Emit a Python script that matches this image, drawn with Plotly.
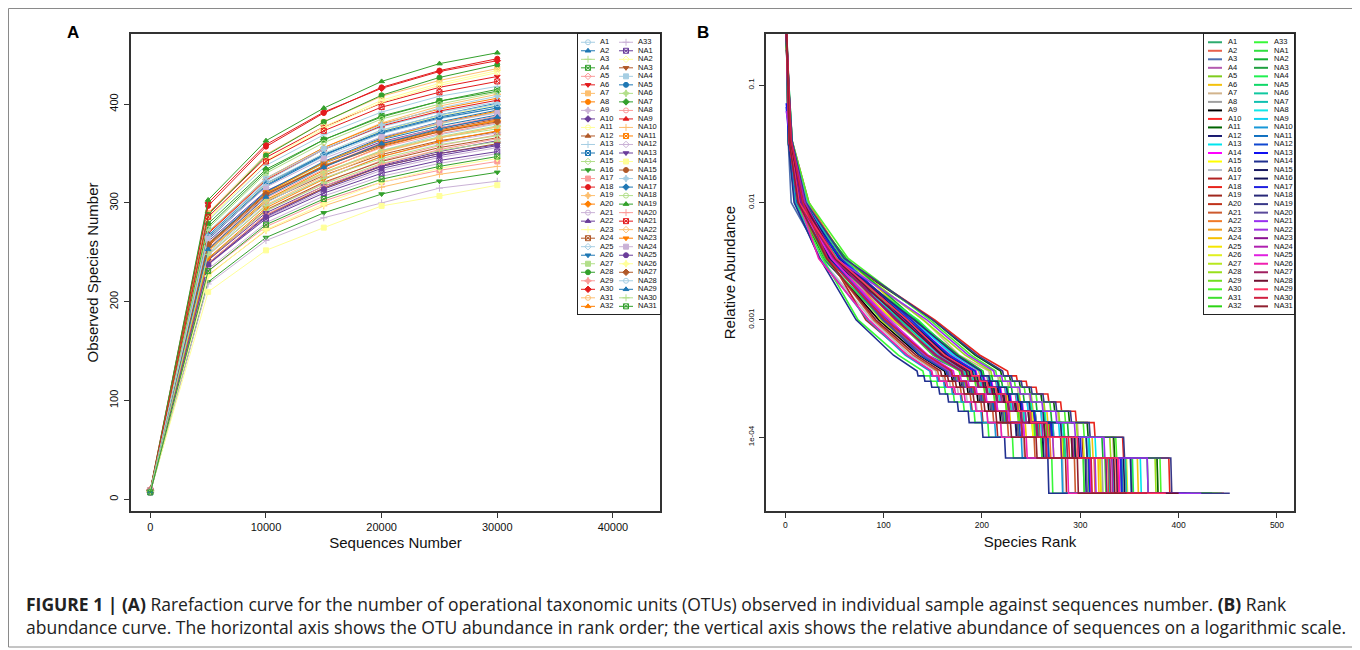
import plotly.graph_objects as go

# the page body adds an 8px margin, so the figure is 8px smaller and coordinates are shifted
OFF = 8
W, H = 1360 - OFF, 650 - OFF

# ---------------- panel A : rarefaction curves ----------------
depths = [0, 5000, 10000, 15000, 20000, 25000, 30000]
samples = [f"A{i}" for i in range(1, 34)] + [f"NA{i}" for i in range(1, 32)]

# observed OTUs at each depth, order A1..A33 then NA1..NA31
obs_0 = [8, 7, 9, 8, 7, 9, 8, 8, 7, 9, 8, 8, 9, 7, 8, 7, 9, 9, 8, 8, 7, 8, 8, 9, 7, 8, 8, 9, 8, 10, 7, 8, 8,
         8, 8, 7, 9, 8, 8, 9, 7, 8, 8, 8, 7, 9, 8, 8, 8, 9, 8, 9, 7, 9, 8, 8, 9, 7, 8, 9, 8, 8, 9, 7]
obs_5000 = [263, 263, 253, 276, 242, 289, 290, 252, 237, 261, 283, 243, 282, 259, 257, 220, 231, 297, 269, 259,
            233, 238, 265, 251, 249, 265, 244, 288, 253, 300, 247, 270, 218,
            238, 284, 239, 271, 258, 251, 279, 254, 269, 227, 257, 247, 242, 210, 256, 267, 267, 274, 303, 239,
            286, 251, 244, 264, 238, 226, 258, 266, 253, 248, 231]
obs_10000 = [317, 317, 303, 332, 292, 346, 349, 303, 285, 312, 341, 293, 338, 311, 310, 265, 276, 357, 324, 309,
             280, 287, 319, 301, 300, 318, 292, 348, 305, 359, 298, 325, 262,
             284, 343, 288, 325, 311, 302, 334, 307, 323, 272, 310, 297, 290, 252, 308, 322, 320, 330, 363, 288,
             342, 302, 295, 316, 286, 273, 309, 320, 306, 297, 278]
obs_15000 = [347, 348, 331, 364, 320, 377, 382, 333, 312, 340, 375, 321, 369, 341, 340, 290, 302, 391, 356, 338,
             307, 315, 350, 328, 330, 349, 319, 382, 334, 392, 327, 356, 285,
             310, 377, 315, 355, 342, 331, 364, 337, 354, 297, 341, 325, 317, 275, 337, 354, 349, 361, 396, 317,
             373, 330, 324, 345, 314, 299, 337, 350, 336, 325, 304]
obs_20000 = [370, 373, 352, 388, 343, 401, 408, 357, 333, 362, 402, 342, 392, 364, 365, 309, 321, 417, 381, 359,
             327, 338, 373, 349, 353, 372, 340, 409, 356, 416, 351, 380, 300,
             330, 404, 337, 377, 366, 353, 387, 361, 378, 316, 365, 347, 337, 297, 360, 379, 371, 385, 423, 339,
             397, 352, 347, 367, 335, 321, 358, 374, 360, 345, 324]
obs_25000 = [385, 389, 366, 403, 358, 417, 424, 372, 346, 376, 419, 356, 408, 378, 380, 322, 333, 434, 398, 373,
             340, 352, 388, 363, 369, 387, 353, 427, 370, 433, 366, 395, 315,
             343, 421, 350, 392, 382, 367, 403, 376, 393, 329, 381, 361, 350, 307, 374, 396, 386, 400, 441, 354,
             412, 366, 362, 381, 348, 335, 372, 389, 375, 359, 337]
obs_30000 = [396, 401, 375, 415, 369, 428, 436, 384, 356, 386, 432, 366, 418, 389, 392, 331, 342, 446, 410, 383,
             350, 363, 399, 372, 380, 398, 362, 440, 381, 444, 377, 406, 322,
             352, 434, 360, 402, 394, 378, 413, 388, 404, 337, 393, 371, 359, 318, 385, 408, 396, 412, 452, 365,
             423, 377, 373, 391, 358, 345, 382, 400, 387, 368, 347]

colors_a = ["#A6CEE3", "#1F78B4", "#B2DF8A", "#33A02C", "#FB9A99", "#E31A1C",
            "#FDBF6F", "#FF7F00", "#CAB2D6", "#6A3D9A", "#FFFF99", "#B15928"]
symbols_a = ["circle-open", "triangle-up", "cross-thin-open", "square-x-open", "diamond-open",
             "triangle-down", "square", "circle", "star-diamond", "diamond"]

# ---------------- panel B : rank abundance ----------------
total_reads = 30000
# relative abundance of the most abundant OTU
top_share = [0.31, 0.28, 0.36, 0.25, 0.42, 0.30, 0.22, 0.34, 0.39, 0.27, 0.24, 0.37, 0.29, 0.33, 0.26, 0.44,
             0.40, 0.21, 0.32, 0.28, 0.41, 0.35, 0.27, 0.38, 0.30, 0.26, 0.36, 0.23, 0.31, 0.24, 0.34, 0.29, 0.45,
             0.38, 0.23, 0.35, 0.28, 0.31, 0.33, 0.25, 0.30, 0.27, 0.43, 0.29, 0.36, 0.07, 0.46, 0.30, 0.27,
             0.065, 0.26, 0.20, 0.37, 0.06, 0.35, 0.33, 0.29, 0.36, 0.40, 0.31, 0.28, 0.32, 0.34, 0.39]
# number of OTUs having at least N reads (= last rank at that abundance)
rank_1000 = [5, 4, 3, 5, 4, 6, 7, 5, 3, 5, 6, 4, 5, 4, 6, 3, 4, 7, 5, 6, 3, 4, 6, 4, 5, 6, 4, 5, 6, 7, 4, 5, 3,
             4, 6, 5, 5, 4, 6, 7, 4, 6, 3, 6, 4, 5, 3, 6, 5, 4, 6, 7, 5, 6, 4, 5, 6, 4, 4, 4, 5, 4, 6, 4]
rank_300 = [19, 14, 6, 18, 18, 18, 21, 20, 11, 17, 17, 16, 19, 12, 20, 12, 10, 24, 17, 19, 10, 23, 19, 13, 17,
            20, 13, 18, 18, 24, 13, 19, 11,
            14, 18, 17, 18, 14, 17, 20, 15, 22, 10, 19, 12, 15, 9, 19, 18, 15, 20, 21, 17, 19, 13, 16, 20, 13,
            14, 13, 18, 14, 18, 13]
rank_100 = [54, 48, 38, 52, 45, 61, 54, 50, 40, 55, 57, 48, 49, 50, 54, 36, 45, 58, 56, 44, 42, 60, 49, 49, 42,
            51, 48, 59, 50, 64, 52, 49, 38,
            40, 62, 44, 47, 53, 46, 59, 46, 54, 35, 56, 44, 46, 35, 45, 55, 56, 51, 60, 48, 51, 48, 49, 49, 47,
            34, 50, 51, 52, 43, 42]
rank_30 = [124, 121, 100, 130, 116, 130, 141, 108, 95, 117, 150, 98, 132, 126, 115, 88, 82, 152, 125, 121, 90,
           101, 118, 104, 110, 122, 97, 140, 124, 147, 113, 117, 74,
           99, 133, 104, 135, 116, 117, 123, 119, 128, 84, 125, 100, 103, 72, 122, 124, 128, 131, 150, 99, 144,
           103, 114, 120, 106, 85, 112, 119, 124, 102, 92]
rank_15 = [164, 167, 145, 172, 154, 174, 177, 156, 136, 156, 193, 140, 170, 168, 153, 127, 124, 198, 164, 167,
           130, 140, 160, 143, 154, 160, 139, 183, 162, 189, 150, 160, 115,
           141, 176, 142, 173, 159, 155, 166, 156, 172, 122, 167, 137, 144, 110, 160, 165, 166, 174, 195, 140,
           186, 142, 152, 158, 145, 124, 154, 159, 162, 144, 133]
rank_11 = [190, 189, 179, 197, 181, 197, 207, 180, 162, 184, 219, 164, 199, 194, 177, 153, 148, 226, 191, 190,
           155, 167, 186, 168, 179, 188, 165, 209, 189, 214, 177, 185, 140,
           166, 201, 168, 200, 184, 182, 191, 183, 198, 147, 193, 164, 169, 134, 187, 190, 193, 199, 221, 165,
           212, 167, 179, 184, 171, 149, 180, 184, 189, 169, 158]
rank_10 = [198, 197, 187, 205, 188, 206, 216, 188, 169, 192, 228, 171, 207, 202, 185, 160, 155, 235, 199, 198,
           162, 174, 194, 176, 187, 196, 172, 218, 197, 223, 185, 193, 147,
           173, 210, 175, 208, 192, 190, 199, 191, 206, 154, 201, 172, 176, 141, 195, 198, 201, 207, 230, 172,
           220, 175, 187, 192, 178, 156, 188, 192, 197, 176, 165]
rank_9 = [206, 206, 195, 214, 196, 216, 226, 196, 177, 200, 238, 179, 216, 210, 193, 167, 162, 245, 208, 206,
          170, 182, 203, 184, 195, 205, 180, 228, 205, 233, 193, 202, 154,
          181, 220, 183, 217, 200, 198, 208, 199, 215, 161, 209, 180, 184, 148, 203, 207, 209, 216, 240, 180,
          229, 183, 195, 200, 186, 164, 196, 201, 205, 184, 173]
rank_8 = [215, 215, 204, 223, 204, 226, 236, 205, 185, 209, 248, 187, 225, 219, 202, 175, 170, 255, 217, 215,
          178, 190, 212, 193, 204, 214, 188, 238, 214, 243, 202, 211, 162,
          189, 230, 191, 226, 209, 207, 217, 208, 224, 169, 218, 189, 192, 156, 212, 216, 218, 225, 250, 188,
          238, 192, 204, 209, 194, 172, 205, 210, 214, 192, 181]
rank_7 = [225, 226, 214, 234, 214, 238, 248, 215, 195, 219, 260, 197, 236, 229, 212, 184, 179, 267, 228, 225,
          188, 200, 223, 203, 214, 225, 198, 250, 224, 255, 212, 222, 171,
          199, 242, 201, 237, 219, 217, 228, 218, 235, 178, 228, 199, 202, 165, 222, 227, 228, 236, 262, 198,
          249, 202, 214, 219, 204, 182, 215, 221, 224, 202, 191]
rank_6 = [237, 239, 226, 246, 224, 251, 262, 227, 206, 229, 273, 208, 250, 241, 224, 194, 189, 280, 240, 238,
          199, 211, 235, 215, 225, 237, 209, 263, 236, 269, 224, 234, 181,
          210, 255, 212, 249, 231, 229, 240, 230, 246, 188, 240, 211, 213, 175, 234, 239, 240, 248, 275, 209,
          261, 214, 226, 231, 215, 193, 227, 233, 236, 213, 202]
rank_5 = [250, 253, 238, 260, 236, 266, 277, 240, 218, 242, 288, 220, 264, 254, 237, 205, 200, 295, 254, 251,
          211, 223, 249, 228, 238, 251, 221, 278, 249, 284, 237, 248, 192,
          222, 270, 224, 263, 244, 242, 254, 243, 260, 199, 253, 224, 225, 186, 247, 253, 253, 262, 290, 221,
          275, 227, 239, 244, 227, 205, 240, 247, 249, 225, 214]
rank_4 = [267, 269, 254, 280, 251, 283, 297, 255, 235, 258, 307, 234, 282, 272, 251, 219, 215, 314, 271, 268,
          226, 240, 265, 244, 253, 270, 236, 296, 267, 303, 253, 265, 206,
          237, 287, 240, 283, 260, 257, 272, 260, 278, 213, 271, 238, 240, 200, 263, 270, 270, 280, 309, 236,
          294, 242, 255, 261, 242, 219, 256, 263, 266, 240, 229]
rank_3 = [298, 295, 282, 309, 281, 312, 333, 280, 261, 288, 334, 262, 315, 298, 281, 242, 243, 343, 302, 294,
          253, 269, 291, 272, 280, 303, 260, 330, 292, 336, 283, 294, 231,
          260, 322, 267, 309, 291, 284, 306, 286, 308, 240, 297, 267, 265, 223, 294, 298, 300, 306, 344, 264,
          324, 272, 280, 292, 265, 245, 286, 291, 297, 265, 255]
rank_2 = [342, 336, 329, 352, 320, 358, 378, 322, 309, 328, 378, 305, 361, 339, 326, 282, 285, 390, 346, 337,
          294, 314, 333, 318, 320, 347, 303, 376, 333, 381, 325, 341, 271,
          303, 368, 308, 353, 333, 329, 346, 333, 351, 281, 342, 309, 309, 267, 337, 344, 341, 351, 392, 306,
          368, 315, 326, 332, 310, 287, 330, 334, 338, 311, 297]

colors_b = ["#2EAB6E", "#E8614C", "#4F6FAF", "#B45BB0", "#7FCC1E", "#F4C20D", "#D2B48C", "#A0A0A0",
            "#000000", "#FF2A2A", "#006400", "#191970", "#00E5EE", "#FF00FF", "#FFFF00", "#B8BEC6",
            "#B22222", "#E8241C", "#A0281E", "#C0321A", "#CD5A2E", "#F07A28", "#F0A020", "#F5C000",
            "#F5E600", "#E0F020", "#B8E81E", "#98E01A", "#70E020", "#4CF52C", "#40E030", "#2CD414",
            "#38F838", "#30E040", "#10B030", "#20A040", "#20F050", "#10D868", "#10C8A0", "#10C0B0",
            "#10E8E8", "#10D0F0", "#1898D8", "#1070C0", "#1048D0", "#1010F0", "#203090", "#181860",
            "#101058", "#2020E0", "#282878", "#383888", "#5A4A9A", "#9A30F0", "#A030E0", "#8A1090",
            "#B020B0", "#E020E0", "#F020B0", "#A02060", "#701030", "#FF3060", "#D02040", "#902030"]

arrays = [obs_0, obs_5000, obs_10000, obs_15000, obs_20000, obs_25000, obs_30000, top_share, rank_1000,
          rank_300, rank_100, rank_30, rank_15, rank_11, rank_10, rank_9, rank_8, rank_7, rank_6, rank_5,
          rank_4, rank_3, rank_2, colors_b]
assert all(len(a) == len(samples) for a in arrays), [len(a) for a in arrays]


def fx(p):
    return (p - OFF) / W


def fy(p):
    return 1 - (p - OFF) / H


fig = go.Figure()

# panel A curves
obs = list(zip(obs_0, obs_5000, obs_10000, obs_15000, obs_20000, obs_25000, obs_30000))
for i, name in enumerate(samples):
    c = colors_a[i % 12]
    fig.add_trace(go.Scatter(
        x=depths, y=list(obs[i]), mode="lines+markers", name=name, xaxis="x", yaxis="y",
        line=dict(color=c, width=1),
        marker=dict(symbol=symbols_a[i % 10], size=5, color=c, line=dict(color=c, width=1)),
        showlegend=False))

# panel B curves
head_levels = [1000, 300, 100, 30, 15, 11]
head_ranks = [rank_1000, rank_300, rank_100, rank_30, rank_15, rank_11]
tail_ranks = {10: rank_10, 9: rank_9, 8: rank_8, 7: rank_7, 6: rank_6, 5: rank_5,
              4: rank_4, 3: rank_3, 2: rank_2, 1: obs_30000}
for i, name in enumerate(samples):
    xs, ys = [1], [top_share[i]]
    for lev, rk in zip(head_levels, head_ranks):
        xs.append(rk[i])
        ys.append(lev / total_reads)
    prev = rank_11[i]
    for lev in range(10, 0, -1):
        r = tail_ranks[lev][i]
        xs += [prev + 1, r]
        ys += [lev / total_reads] * 2
        prev = r
    fig.add_trace(go.Scatter(x=xs, y=ys, mode="lines", name=name, xaxis="x2", yaxis="y2",
                             line=dict(color=colors_b[i], width=1.6), showlegend=False))

# hand-made legends (two columns of 32 entries each)
n_rows = 32
for i, name in enumerate(samples):
    row, col = i % n_rows, i // n_rows
    c = colors_a[i % 12]
    x0 = 3 + 38 * col
    fig.add_trace(go.Scatter(x=[x0, x0 + 14], y=[row, row], mode="lines", xaxis="x3", yaxis="y3",
                             line=dict(color=c, width=1), showlegend=False, hoverinfo="skip"))
    fig.add_trace(go.Scatter(x=[x0 + 7], y=[row], mode="markers", xaxis="x3", yaxis="y3",
                             marker=dict(symbol=symbols_a[i % 10], size=5, color=c, line=dict(color=c, width=1)),
                             showlegend=False, hoverinfo="skip"))
    xb = 4 + 46 * col
    fig.add_trace(go.Scatter(x=[xb, xb + 14], y=[row, row], mode="lines", xaxis="x4", yaxis="y4",
                             line=dict(color=colors_b[i], width=2), showlegend=False, hoverinfo="skip"))

rows = [i % n_rows for i in range(len(samples))]
fig.add_trace(go.Scatter(x=[22 + 38 * (i // n_rows) for i in range(len(samples))], y=rows, text=samples,
                         mode="text", textposition="middle right", xaxis="x3", yaxis="y3",
                         textfont=dict(size=7.5, color="#111", family="Arial"), showlegend=False, hoverinfo="skip"))
fig.add_trace(go.Scatter(x=[24 + 46 * (i // n_rows) for i in range(len(samples))], y=rows, text=samples,
                         mode="text", textposition="middle right", xaxis="x4", yaxis="y4",
                         textfont=dict(size=7.5, color="#111", family="Arial"), showlegend=False, hoverinfo="skip"))

axis_common = dict(showline=True, mirror=True, linecolor="#333", linewidth=1.5, showgrid=False, zeroline=False,
                   ticks="outside", ticklen=5, tickwidth=1, tickcolor="#333")
legend_axis = dict(showline=True, mirror=True, linecolor="#222", linewidth=1, showgrid=False, zeroline=False,
                   showticklabels=False, ticks="", fixedrange=True)

row_range = [n_rows - 1 + 0.9, -0.97]

fig.update_layout(
    width=W, height=H, margin=dict(l=0, r=0, t=0, b=0),
    paper_bgcolor="white", plot_bgcolor="white",
    font=dict(family="Arial", color="#111"),
    xaxis=dict(axis_common, domain=[fx(131), fx(660)], range=[-1670, 44070],
               tickvals=[0, 10000, 20000, 30000, 40000], tickformat="d", tickfont=dict(size=11, color="#111"),
               title=dict(text="Sequences Number", font=dict(size=15, color="#111"), standoff=6), anchor="y"),
    yaxis=dict(axis_common, domain=[fy(511), fy(34)], range=[-11.8, 471], tickvals=[0, 100, 200, 300, 400],
               tickangle=-90, tickfont=dict(size=11, color="#111"), ticklabelstandoff=2,
               title=dict(text="Observed Species Number", font=dict(size=15, color="#111"), standoff=6),
               anchor="x"),
    xaxis2=dict(axis_common, domain=[fx(766), fx(1294)], range=[-19.6, 517.3],
                tickvals=[0, 100, 200, 300, 400, 500], tickfont=dict(size=8.5, color="#111"),
                title=dict(text="Species Rank", font=dict(size=15, color="#111"), standoff=8), anchor="y2"),
    yaxis2=dict(axis_common, domain=[fy(511), fy(34)], type="log", range=[-4.628, -0.565],
                tickvals=[0.1, 0.01, 0.001, 0.0001], ticktext=["0.1", "0.01", "0.001", "1e-04"],
                tickangle=-90, tickfont=dict(size=8, color="#111"), ticklabelstandoff=2,
                title=dict(text="Relative Abundance", font=dict(size=15, color="#111"), standoff=8),
                anchor="x2"),
    xaxis3=dict(legend_axis, domain=[fx(578), fx(660)], range=[0, 82], anchor="y3"),
    yaxis3=dict(legend_axis, domain=[fy(314), fy(34)], range=row_range, anchor="x3"),
    xaxis4=dict(legend_axis, domain=[fx(1204), fx(1294)], range=[0, 90], anchor="y4"),
    yaxis4=dict(legend_axis, domain=[fy(314), fy(34)], range=row_range, anchor="x4"),
    shapes=[dict(type="rect", xref="paper", yref="paper", x0=fx(8.5), x1=fx(1355), y0=fy(647), y1=fy(8.5),
                 line=dict(color="#8a8a8a", width=1))],
    annotations=[
        dict(text="<b>A</b>", x=fx(73), y=fy(33), xref="paper", yref="paper", showarrow=False,
             xanchor="center", yanchor="middle", font=dict(size=17, color="#000")),
        dict(text="<b>B</b>", x=fx(703), y=fy(33), xref="paper", yref="paper", showarrow=False,
             xanchor="center", yanchor="middle", font=dict(size=17, color="#000")),
        dict(text="<b>FIGURE 1 | (A)</b> Rarefaction curve for the number of operational taxonomic units (OTUs) "
                  "observed in individual sample against sequences number. <b>(B)</b> Rank<br>"
                  "abundance curve. The horizontal axis shows the OTU abundance in rank order; the vertical axis "
                  "shows the relative abundance of sequences on a logarithmic scale.",
             x=fx(24), y=fy(590), xref="paper", yref="paper", xanchor="left", yanchor="top", align="left",
             showarrow=False, font=dict(size=17.5, color="#222", family="Open Sans")),
    ],
)

fig.write_html("out.html")
